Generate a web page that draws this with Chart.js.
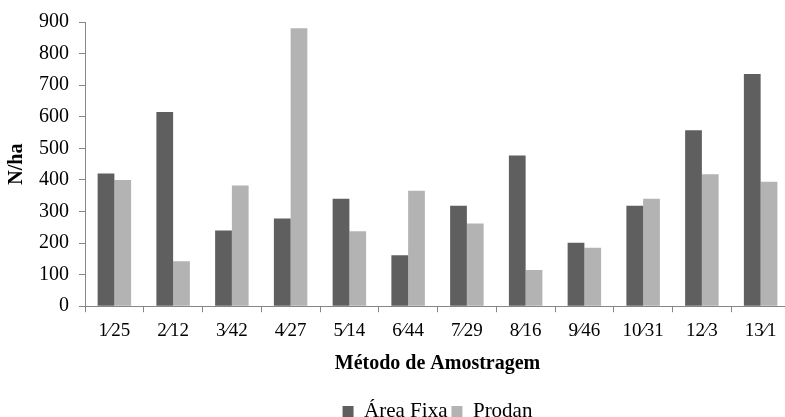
<!DOCTYPE html>
<html>
<head>
<meta charset="utf-8">
<script src="https://cdn.jsdelivr.net/npm/chart.js@4"></script>
<style>
  html, body { margin: 0; padding: 0; background: #fff; overflow: hidden; }
  #wrap { position: relative; width: 792px; height: 417px; }
</style>
</head>
<body>
<div id="wrap"><canvas id="c" width="792" height="417"></canvas></div>
<script>
const categories = ["1⁄25", "2⁄12", "3⁄42", "4⁄27", "5⁄14", "6⁄44", "7⁄29", "8⁄16", "9⁄46", "10⁄31", "12⁄3", "13⁄1"];
const areaFixa = [420, 615, 240, 278, 340, 161, 318, 477, 201, 318, 557, 735];
const prodan   = [400, 142, 382, 880, 237, 366, 262, 115, 185, 340, 418, 394];
const seriesNames = ["Área Fixa", "Prodan"];
const yTicks = [0, 100, 200, 300, 400, 500, 600, 700, 800, 900];

const AXIS = '#868686';
const FONT = '"Liberation Serif", "Times New Roman", serif';

const legendShift = {
  id: 'legendShift',
  afterLayout(chart) {
    const lg = chart.legend;
    const ca = chart.chartArea;
    const w = lg.right - lg.left;
    const mid = (ca.left + ca.right) / 2;
    lg.left = mid - w / 2;
    lg.right = mid + w / 2;
    lg.top += 15;
    lg.bottom += 15;
  }
};

new Chart(document.getElementById('c'), {
  type: 'bar',
  data: {
    labels: categories,
    datasets: [
      { label: seriesNames[0], data: areaFixa, backgroundColor: '#5f5f5f', borderWidth: 0 },
      { label: seriesNames[1], data: prodan, backgroundColor: '#b3b3b3', borderWidth: 0 }
    ]
  },
  options: {
    responsive: false,
    animation: false,
    devicePixelRatio: 1,
    layout: { padding: { top: 20, right: 2, bottom: 0, left: 0 } },
    datasets: { bar: { categoryPercentage: 0.57, barPercentage: 1.0 } },
    plugins: {
      legend: {
        position: 'bottom',
        labels: {
          boxWidth: 11, boxHeight: 11, padding: 4,
          color: '#000',
          font: { family: FONT, size: 21 }
        }
      },
      tooltip: { enabled: false }
    },
    scales: {
      x: {
        afterFit(scale) { scale.height = 75.8; },
        grid: { display: true, drawOnChartArea: false, offset: true, tickLength: 6, color: AXIS },
        border: { display: true, color: AXIS, width: 1 },
        ticks: { color: '#000', padding: 7, maxRotation: 0, autoSkip: false, font: { family: FONT, size: 19 } },
        title: { display: true, text: 'Método de Amostragem', color: '#000', padding: { top: 0, bottom: 6 }, font: { family: FONT, size: 20, weight: 'bold' } }
      },
      y: {
        min: 0, max: 900,
        afterFit(scale) { scale.width = 85; },
        afterBuildTicks(scale) { scale.ticks = yTicks.map(v => ({ value: v })); },
        grid: { display: true, drawOnChartArea: false, tickLength: 6, color: AXIS },
        border: { display: true, color: AXIS, width: 1 },
        ticks: { color: '#000', padding: 10, font: { family: FONT, size: 20 } },
        title: { display: true, text: 'N/ha', color: '#000', padding: { top: 5, bottom: 0 }, font: { family: FONT, size: 20, weight: 'bold' } }
      }
    }
  },
  plugins: [legendShift]
});
</script>
</body>
</html>
